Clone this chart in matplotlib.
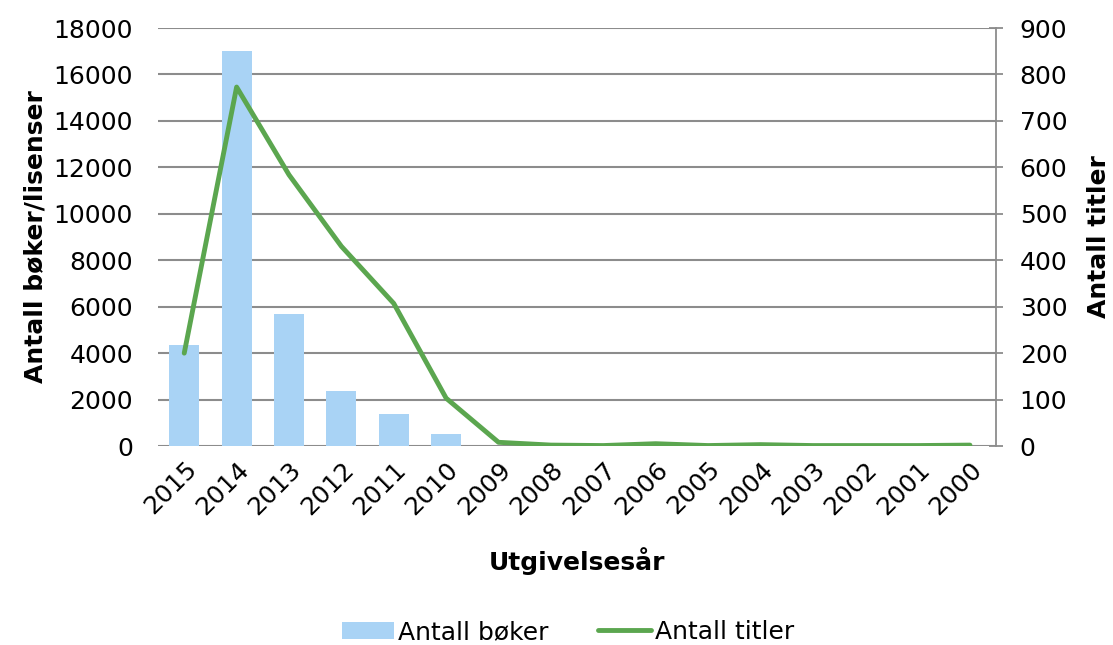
import matplotlib
matplotlib.use('Agg')
from matplotlib import pyplot as plt
import numpy as np

years = ['2015', '2014', '2013', '2012', '2011', '2010', '2009', '2008',
         '2007', '2006', '2005', '2004', '2003', '2002', '2001', '2000']
boker = [4350, 17000, 5700, 2370, 1380, 520, 0, 0, 0, 0, 0, 0, 0, 0, 0, 0]
titler = [200, 773, 584, 430, 307, 103, 8, 2, 1, 5, 1, 3, 1, 1, 1, 2]

bar_color = '#A9D3F5'
line_color = '#5BA64F'
grid_color = '#8C8C8C'

plt.rcParams['font.family'] = 'DejaVu Sans'
plt.rcParams['font.size'] = 18

fig = plt.figure(figsize=(11.13, 6.45), dpi=100)
ax1 = fig.add_axes([0.142, 0.3085, 0.753, 0.648])
ax2 = ax1.twinx()

x = np.arange(len(years))
ax1.bar(x, boker, width=0.57, color=bar_color, label='Antall bøker', zorder=2)
ax2.plot(x, titler, color=line_color, lw=3.5, solid_capstyle='round',
         solid_joinstyle='round', label='Antall titler', zorder=3)

ax1.set_xlim(-0.5, len(years) - 0.5)
ax1.set_ylim(0, 18000)
ax1.set_yticks(range(0, 18001, 2000))
ax2.set_ylim(0, 900)
ax2.set_yticks(range(0, 901, 100))

ax1.set_axisbelow(True)
ax1.yaxis.grid(True, color=grid_color, lw=1.5)
ax1.set_xticks(x)
ax1.set_xticklabels(years, rotation=45, ha='right', rotation_mode='anchor')
ax1.tick_params(axis='x', length=0, pad=8)
ax1.tick_params(axis='y', length=0, pad=18)
ax2.tick_params(axis='y', direction='inout', length=10, color=grid_color,
                width=1.3, pad=12)

for s in ['top', 'left', 'right', 'bottom']:
    ax1.spines[s].set_visible(False)
for s in ['top', 'left', 'bottom']:
    ax2.spines[s].set_visible(False)
ax2.spines['right'].set_color(grid_color)
ax2.spines['right'].set_linewidth(1.3)

ax1.set_ylabel('Antall bøker/lisenser', fontweight='bold', labelpad=4)
ax2.set_ylabel('Antall titler', fontweight='bold', labelpad=14)
ax1.set_xlabel('Utgivelsesår', fontweight='bold', labelpad=20)

h1, l1 = ax1.get_legend_handles_labels()
h2, l2 = ax2.get_legend_handles_labels()
fig.legend(h1 + h2, l1 + l2, loc='center', bbox_to_anchor=(0.51, 0.02),
           ncol=2, frameon=False, handlelength=2.1, handletextpad=0.15,
           columnspacing=2.0, borderaxespad=0)

fig.savefig('out.png', dpi=100)
